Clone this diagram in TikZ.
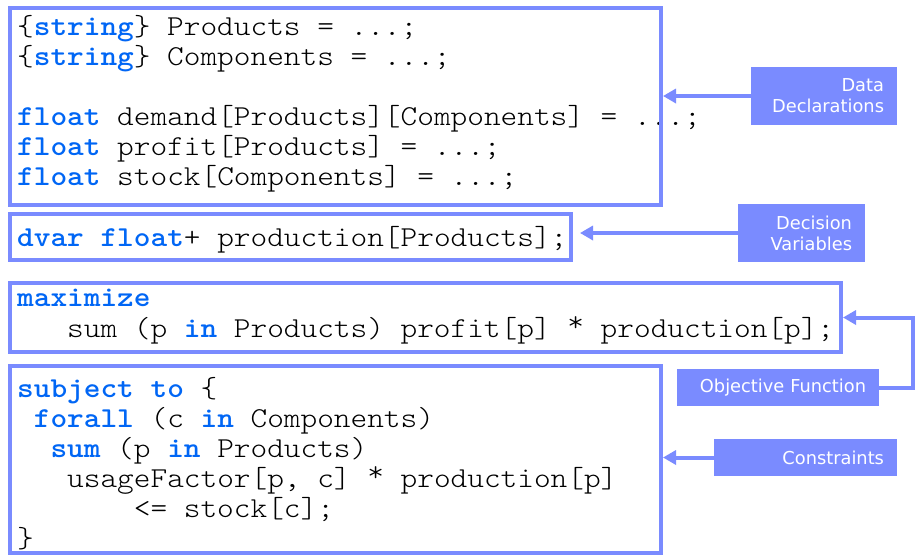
\documentclass[tikz,border=0pt]{standalone}
\usepackage{fontspec}
\newfontfamily\codefont[FakeStretch=1.1]{Latin Modern Mono Light}
\newfontfamily\labelfont{DejaVu Sans}
\usetikzlibrary{arrows.meta}
\definecolor{frame}{RGB}{122,139,255}
\definecolor{kwblue}{RGB}{0,102,245}
\newcommand\kw[1]{\textbf{\color{kwblue}#1}}
% raised multiplication star, as in typewriter code listings
\newcommand\mulstar{\raisebox{6pt}{*}}

\tikzset{
  codeline/.style={anchor=base west, inner sep=0pt,
    font=\codefont\fontsize{28.87}{30}\selectfont},
  codebox/.style={draw=frame, line width=4pt, inner sep=0pt, rectangle},
  tag/.style={fill=frame, text=white, align=right, inner xsep=13pt,
    inner ysep=0pt, font=\labelfont\fontsize{17.8}{21}\selectfont},
  arr/.style={draw=frame, line width=4pt,
    -{Triangle[length=13pt,width=14pt]}},
}

\begin{document}
\begin{tikzpicture}[x=1pt,y=-1pt]
\fill[white] (0,0) rectangle (921,555);
\useasboundingbox (0,0) rectangle (921,555);

% data declarations
\node[codeline] (d1) at (17,35)  {\{\kw{string}\} Products = ...;};
\node[codeline] (d2) at (17,65)  {\{\kw{string}\} Components = ...;};
\node[codeline] (d3) at (17,125) {\kw{float} demand[Products][Components] = ...;};
\node[codeline] (d4) at (17,155) {\kw{float} profit[Products] = ...;};
\node[codeline] (d5) at (17,185) {\kw{float} stock[Components] = ...;};

% decision variables
\node[codeline] (v1) at (17,246) {\kw{dvar} \kw{float}+ production[Products];};

% objective
\node[codeline] (o1) at (17,306) {\kw{maximize}};
\node[codeline] (o2) at (17,337) {\ \ \ sum (p \kw{in} Products) profit[p] \mulstar{} production[p];};

% constraints
\node[codeline] (c1) at (17,397) {\kw{subject} \kw{to} \{};
\node[codeline] (c2) at (17,427) {\ \kw{forall} (c \kw{in} Components)};
\node[codeline] (c3) at (17,457) {\ \ \kw{sum} (p \kw{in} Products)};
\node[codeline] (c4) at (17,487) {\ \ \ usageFactor[p, c] \mulstar{} production[p]};
\node[codeline] (c5) at (17,517) {\ \ \ \ \ \ \ <= stock[c];};
\node[codeline] (c6) at (17,547) {\}};

% frames around the model sections
\node[codebox, minimum width=651pt, minimum height=197pt] (data) at (335.5,106.5) {};
\node[codebox, minimum width=561pt, minimum height=46pt]  (dvar) at (290.5,237) {};
\node[codebox, minimum width=831pt, minimum height=69pt]  (obj)  at (425.5,317.5) {};
\node[codebox, minimum width=651pt, minimum height=187pt] (cons) at (335.5,459.5) {};

% section tags
\node[tag, text width=120pt, minimum height=58pt] (ddlab) at (824,96)
  {Data\\Declarations};
\node[tag, text width=101pt, minimum height=58pt] (dvlab) at (801.5,233)
  {Decision\\Variables};
\node[tag, text width=176pt, minimum height=37pt] (oflab) at (778,387.5)
  {Objective Function};
\node[tag, text width=157pt, minimum height=37pt] (ctlab) at (805.5,457.5)
  {Constraints};

% pointers
\draw[arr] (ddlab.west) -- (ddlab.west -| data.east);
\draw[arr, shorten >=7pt] (dvlab.west) -- (dvlab.west -| dvar.east);
\coordinate (ofturn) at (913,387.5);
\draw[arr] (oflab.east) -- (ofturn) |- (obj.east);
\draw[arr] (ctlab.west) -- (ctlab.west -| cons.east);
\end{tikzpicture}
\end{document}
